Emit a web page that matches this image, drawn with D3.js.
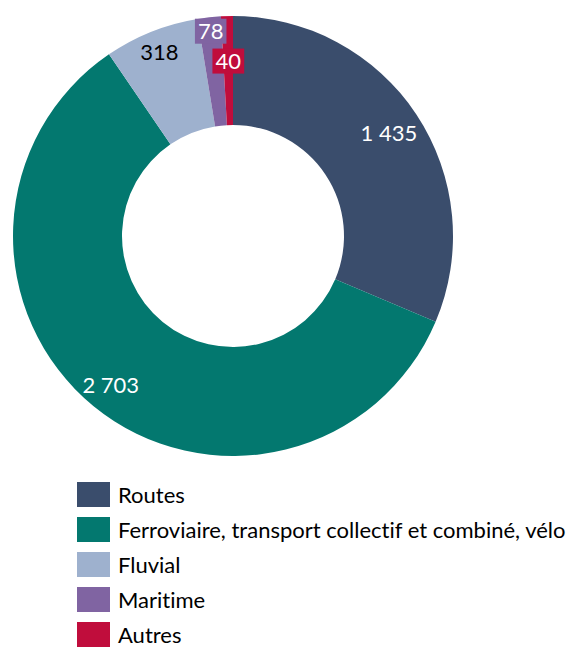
<!DOCTYPE html>
<html><head><meta charset="utf-8">
<script src="https://cdn.jsdelivr.net/npm/d3@7"></script>
<style>
html,body{margin:0;padding:0;background:#fff;}
svg{display:block;font-family:Lato,"Noto Sans",sans-serif;font-variant-ligatures:none;font-feature-settings:"liga" 0,"clig" 0;}
</style></head>
<body>
<svg id="chart" width="577" height="661"></svg>
<script>
const categories = ["Routes", "Ferroviaire, transport collectif et combiné, vélo", "Fluvial", "Maritime", "Autres"];
const values = [1435, 2703, 318, 78, 40];
const valueLabels = ["1 435", "2 703", "318", "78", "40"];

const colors = ["#3A4D6C", "#03786F", "#9EB1CE", "#8064A2", "#C00D3C"];
const labelColors = ["#fff", "#fff", "#000", "#fff", "#fff"];
const labelBoxed = [false, false, false, true, true];
const labelRadius = [187, 193, 198, 206, 175];

const cx = 233, cy = 236, outerR = 220, innerR = 111;
const svg = d3.select("#chart");
const data = categories.map((c, i) => ({cat: c, value: values[i], label: valueLabels[i], i}));

const pie = d3.pie().value(d => d.value).sort(null);
const arcs = pie(data);
const arc = d3.arc().innerRadius(innerR).outerRadius(outerR);
const color = d3.scaleOrdinal().domain(categories).range(colors);

const g = svg.append("g").attr("transform", `translate(${cx},${cy})`);
g.selectAll("path.slice").data(arcs).join("path")
  .attr("class", "slice")
  .attr("d", arc)
  .attr("fill", d => color(d.data.cat));

const labelG = g.selectAll("g.lbl").data(arcs).join("g").attr("class", "lbl")
  .attr("transform", d => {
    const la = d3.arc().innerRadius(labelRadius[d.data.i]).outerRadius(labelRadius[d.data.i]);
    const [x, y] = la.centroid(d);
    return `translate(${x},${y})`;
  });
labelG.each(function(d) {
  const sel = d3.select(this);
  const t = sel.append("text")
    .attr("text-anchor", "middle")
    .attr("dy", "0.36em")
    .attr("font-size", 22)
    .attr("fill", labelColors[d.data.i])
    .text(d.data.label);
  if (labelBoxed[d.data.i]) {
    const bb = t.node().getBBox();
    sel.insert("rect", "text")
      .attr("x", bb.x - 3).attr("y", -12.5)
      .attr("width", bb.width + 6).attr("height", 25)
      .attr("fill", color(d.data.cat));
  }
});

// legend
const legend = svg.append("g").attr("transform", "translate(77,482)");
const rows = legend.selectAll("g").data(categories).join("g")
  .attr("transform", (d, i) => `translate(0,${i * 35})`);
rows.append("rect").attr("width", 33).attr("height", 25).attr("fill", d => color(d));
rows.append("text").attr("x", 41).attr("y", 21).attr("font-size", 22).attr("fill", "#000")
  .text(d => d)
  .each(function() {
    const maxW = 450;
    if (this.getComputedTextLength() > maxW) {
      d3.select(this).attr("textLength", maxW).attr("lengthAdjust", "spacingAndGlyphs");
    }
  });
</script>
</body></html>
